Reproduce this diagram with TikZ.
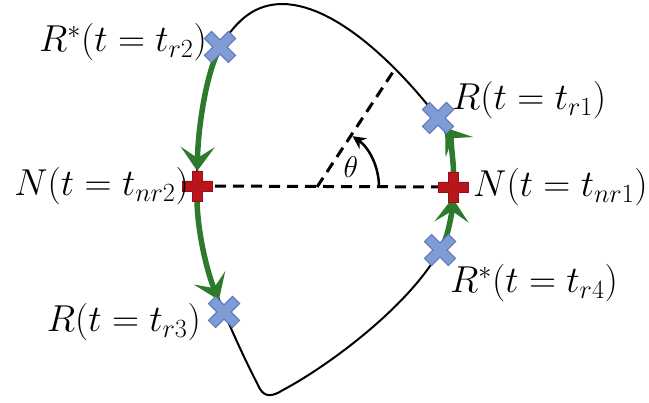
\RequirePackage{fix-cm}
\documentclass[tikz,border=0pt]{standalone}
\usetikzlibrary{arrows.meta}
\definecolor{gArrow}{RGB}{46,122,44}
\definecolor{blueFill}{RGB}{128,156,214}
\definecolor{blueEdge}{RGB}{92,118,182}
\definecolor{redFill}{RGB}{185,22,28}
\begin{document}
\begin{tikzpicture}[x=1pt,y=-1pt,
  outline/.style={line width=2pt,black},
  greenarrow/.style={line width=5.5pt,draw=gArrow,-{Stealth[length=24pt,width=34pt,inset=11pt]}},
  dashline/.style={line width=3pt,dash pattern=on 11pt off 7pt},
  lbl/.style={font=\fontsize{37.5}{44}\selectfont,inner sep=0pt},
  bluex/.pic={\path[fill=blueFill,draw=blueEdge,line width=1pt,rotate=45]
     (-5,-17)--(5,-17)--(5,-5)--(17,-5)--(17,5)--(5,5)--(5,17)--(-5,17)--(-5,5)--(-17,5)--(-17,-5)--(-5,-5)--cycle;},
  redplus/.pic={\path[fill=redFill,draw=redFill!80!black,line width=0.6pt]
     (-5,-15)--(5,-15)--(5,-5)--(15,-5)--(15,5)--(5,5)--(5,15)--(-5,15)--(-5,5)--(-15,5)--(-15,-5)--(-5,-5)--cycle;}
]
\useasboundingbox (0,0) rectangle (649,403);
% key points
\coordinate (r2) at (220,47);
\coordinate (n2) at (197,186);
\coordinate (r3) at (224,312);
\coordinate (r1) at (438,118);
\coordinate (n1) at (453,187);
\coordinate (r4) at (440,250);
\coordinate (c) at (317,187);
\coordinate (d) at (393,72);
% closed outline
\draw[outline] (r3) .. controls (207,272) and (197,230) .. (n2)
  .. controls (197,130) and (205,80) .. (r2)
  .. controls (238,18) and (256,4) .. (283,4)
  .. controls (340,5) and (405,75) .. (r1)
  .. controls (449,133) and (454,162) .. (n1)
  .. controls (452,212) and (448,235) .. (r4)
  .. controls (410,305) and (330,365) .. (283,390)
  .. controls (272,397) and (265,397) .. (260,389)
  .. controls (248,366) and (234,336) .. (r3);
% dashed lines and angle
\draw[dashline] (n2) -- (n1);
\draw[dashline] (c) -- (d);
\draw[line width=2.5pt,-{Stealth[length=13pt,width=13pt]}] (c) ++(62,0) arc[start angle=0,end angle=-55,radius=62];
\node[font=\fontsize{30}{36}\selectfont,inner sep=0pt] (th) at (351,167) {$\theta$};
% green arrows
\draw[greenarrow,shorten >=15pt,shorten <=6pt] (r2) .. controls (205,80) and (198,130) .. (n2);
\draw[greenarrow,shorten >=13pt,shorten <=12pt] (n2) .. controls (197,230) and (207,272) .. (r3);
\draw[greenarrow,shorten >=11pt,shorten <=8pt] (r4) .. controls (448,235) and (452,212) .. (n1);
\draw[greenarrow,shorten >=12pt,shorten <=12pt] (n1) .. controls (454,162) and (449,133) .. (r1);
% markers
\pic at (r2) {bluex};
\pic at (r1) {bluex};
\pic at (r4) {bluex};
\pic at (r3) {bluex};
\pic at (n2) {redplus};
\pic at (n1) {redplus};
% labels
\node[lbl,anchor=base east] (lr2) at (207,52) {$R^{*}(t=t_{r2})$};
\node[lbl,anchor=base east] (ln2) at (189,196) {$N(t=t_{nr2})$};
\node[lbl,anchor=base east] (lr3) at (201,332) {$R(t=t_{r3})$};
\node[lbl,anchor=base west] (lr1) at (452,110) {$R(t=t_{r1})$};
\node[lbl,anchor=base west] (ln1) at (473,197) {$N(t=t_{nr1})$};
\node[lbl,anchor=base west] (lr4) at (450,293) {$R^{*}(t=t_{r4})$};
\end{tikzpicture}
\end{document}
